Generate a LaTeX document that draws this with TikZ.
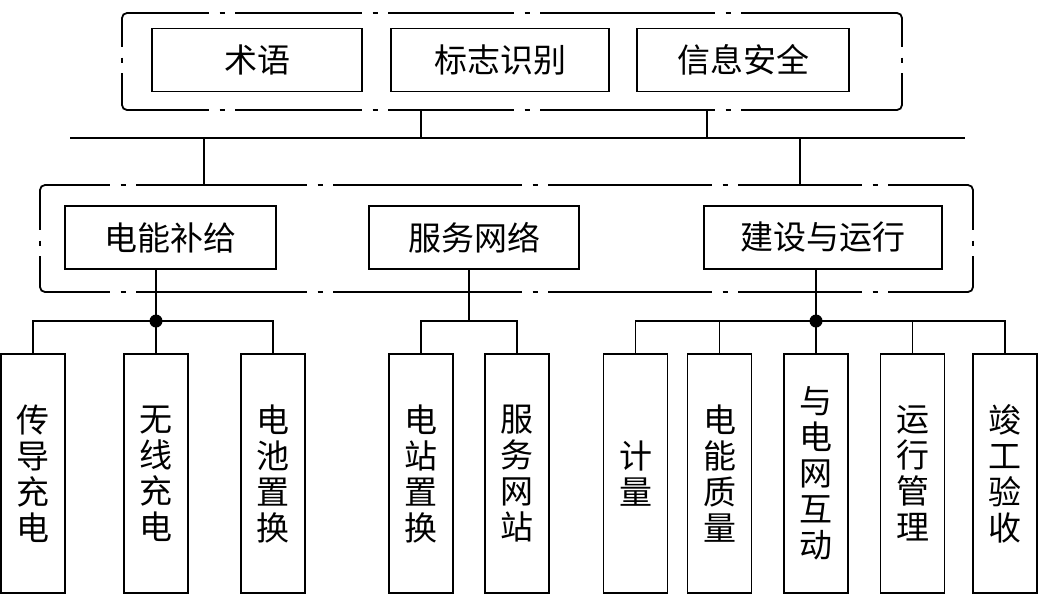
\documentclass[tikz,border=0pt]{standalone}
\usepackage{fontspec}
\newfontfamily\cjk{Noto Sans CJK SC}
\begin{document}
\begin{tikzpicture}[x=1pt,y=-1pt,
  frame/.style={draw=black,line width=1.8pt},
  grp/.style={frame,rounded corners=5pt,inner sep=0pt},
  hbox/.style={frame,inner sep=0pt,minimum height=63pt,font=\cjk\fontsize{33}{36}\selectfont},
  vbox/.style={frame,inner sep=0pt,minimum width=64pt,minimum height=239pt,align=center,font=\cjk\fontsize{33}{36}\selectfont},
  conn/.style={line width=1.8pt},
  dot/.style={circle,fill=black,inner sep=0pt,minimum size=13pt}]
\useasboundingbox (0,0) rectangle (1038,598);
\newcommand\hbrk[2]{\fill[white] (#1-13,#2-3) rectangle (#1+13,#2+3); \draw[conn] (#1-2.5,#2)--(#1+2.5,#2);}
\newcommand\vbrk[2]{\fill[white] (#1-3,#2-13) rectangle (#1+3,#2+13); \draw[conn] (#1,#2-2.5)--(#1,#2+2.5);}
% group frames
\node[grp,minimum width=780pt,minimum height=97pt] (g1) at (512,61.5) {};
\node[grp,minimum width=933pt,minimum height=107pt] (g2) at (506.5,238.5) {};
\foreach \x in {222,375,527,728}{\hbrk{\x}{13}\hbrk{\x}{110}}
\vbrk{122}{60}\vbrk{902}{60}
\foreach \x in {123,320,535,725,875}{\hbrk{\x}{185}\hbrk{\x}{292}}
\vbrk{40}{243}\vbrk{973}{243}
% top boxes
\node[hbox,minimum width=210pt] (t1) at (257,60) {术语};
\node[hbox,minimum width=218pt] (t2) at (500,60) {标志识别};
\node[hbox,minimum width=212pt] (t3) at (743,60) {信息安全};
% middle boxes
\node[hbox,minimum width=211pt] (m1) at (170.5,237.5) {电能补给};
\node[hbox,minimum width=210pt] (m2) at (474,237.5) {服务网络};
\node[hbox,minimum width=238pt] (m3) at (823,237.5) {建设与运行};
% bottom boxes
\node[vbox] (b1) at (33,473.5) {传\\导\\充\\电};
\node[vbox] (b2) at (156,473.5) {无\\线\\充\\电};
\node[vbox] (b3) at (273,473.5) {电\\池\\置\\换};
\node[vbox] (b4) at (421,473.5) {电\\站\\置\\换};
\node[vbox] (b5) at (517,473.5) {服\\务\\网\\站};
\node[vbox] (b6) at (635.5,473.5) {计\\量};
\node[vbox] (b7) at (719.5,473.5) {电\\能\\质\\量};
\node[vbox] (b8) at (816,473.5) {与\\电\\网\\互\\动};
\node[vbox] (b9) at (912.5,473.5) {运\\行\\管\\理};
\node[vbox] (b10) at (1005,473.5) {竣\\工\\验\\收};
% bus
\coordinate (busL) at (70,138);
\coordinate (busR) at (965,138);
\draw[conn] (busL) -- (busR);
\coordinate (u1) at (421,138);
\coordinate (u2) at (707,138);
\coordinate (d1) at (204,138);
\coordinate (d2) at (800,138);
\draw[conn] (u1) -- (u1 |- g1.south);
\draw[conn] (u2) -- (u2 |- g1.south);
\draw[conn] (d1) -- (d1 |- g2.north);
\draw[conn] (d2) -- (d2 |- g2.north);
% junctions
\coordinate (j1) at (156,321);
\coordinate (j2) at (469,321);
\coordinate (j3) at (816,321);
\draw[conn] (j1 |- m1.south) -- (b2.north);
\draw[conn] (b1.north) |- (j1) -| (b3.north);
\draw[conn] (j2 |- m2.south) -- (j2);
\draw[conn] (b4.north) |- (j2) -| (b5.north);
\draw[conn] (j3 |- m3.south) -- (b8.north);
\draw[conn] (b6.north) |- (j3) -| (b10.north);
\draw[conn] (b7.north) -- (b7.north |- j3);
\draw[conn] (b9.north) -- (b9.north |- j3);
\node[dot] (p1) at (j1) {};
\node[dot] (p3) at (j3) {};
\end{tikzpicture}
\end{document}
